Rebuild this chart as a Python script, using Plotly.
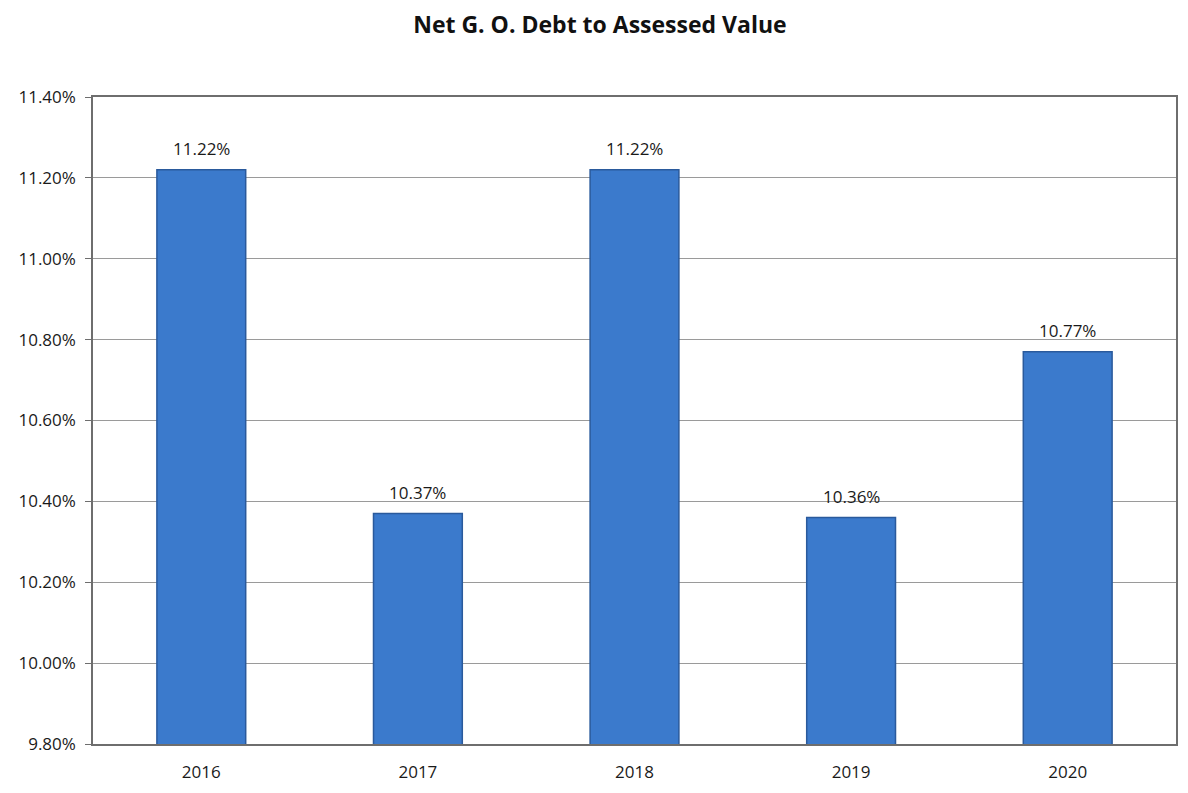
import plotly.graph_objects as go

# Fiscal years and net general obligation debt as a share of assessed value (%)
years = ["2016", "2017", "2018", "2019", "2020"]
debt_ratio = [11.22, 10.37, 11.22, 10.36, 10.77]
bar_labels = [f"{v:.2f}%" for v in debt_ratio]

y_ticks = [9.8, 10.0, 10.2, 10.4, 10.6, 10.8, 11.0, 11.2, 11.4]
y_tick_text = [f"{v:.2f}%" for v in y_ticks]

FONT = "Open Sans, Lato, DejaVu Sans, sans-serif"

fig = go.Figure(
    go.Bar(
        x=years,
        y=debt_ratio,
        width=0.41,
        marker=dict(color="#3b7acc", line=dict(color="#2a5a9c", width=1.5)),
        hoverinfo="x+y",
    )
)

# value labels sitting just above each bar (x given as category position)
for i, (val, lab) in enumerate(zip(debt_ratio, bar_labels)):
    fig.add_annotation(
        x=i,
        y=val,
        xref="x",
        yref="y",
        text=lab,
        showarrow=False,
        yanchor="bottom",
        yshift=8,
        font=dict(family=FONT, size=17, color="#1a1a1a"),
    )

fig.update_layout(
    width=1188,
    height=793,
    paper_bgcolor="white",
    plot_bgcolor="white",
    margin=dict(l=93, r=10, t=97, b=48),
    showlegend=False,
    title=dict(
        text="<b>Net G. O. Debt to Assessed Value</b>",
        x=0.505,
        xanchor="center",
        y=0.968,
        yanchor="middle",
        font=dict(family=FONT, size=23, color="#111111"),
    ),
)

fig.update_yaxes(
    range=[9.8, 11.4],
    tickmode="array",
    tickvals=y_ticks,
    ticktext=y_tick_text,
    tickfont=dict(family=FONT, size=17, color="#1a1a1a"),
    ticklabelstandoff=6,
    showgrid=True,
    gridcolor="#9a9a9a",
    gridwidth=1,
    showline=True,
    linecolor="#6e6e6e",
    linewidth=1.5,
    mirror=True,
    ticks="outside",
    ticklen=6,
    tickcolor="#6e6e6e",
    zeroline=False,
)

fig.update_xaxes(
    type="category",
    categoryorder="array",
    categoryarray=years,
    range=[-0.5, len(years) - 0.5],
    tickfont=dict(family=FONT, size=17, color="#1a1a1a"),
    ticklabelstandoff=12,
    showline=True,
    linecolor="#6e6e6e",
    linewidth=1.5,
    mirror=True,
    ticks="",
    showgrid=False,
)

fig.write_html("out.html")
